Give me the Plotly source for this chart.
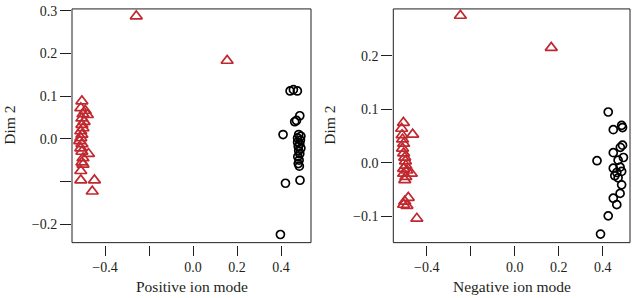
import plotly.graph_objects as go

# ---- data ----
pos_tri_x = [-0.258, 0.155, -0.505, -0.51, -0.49, -0.50, -0.48, -0.505, -0.495, -0.505, -0.50, -0.51,
             -0.505, -0.51, -0.515, -0.505, -0.51, -0.505, -0.475, -0.50, -0.505, -0.50, -0.51, -0.51,
             -0.448, -0.458]
pos_tri_y = [0.287, 0.183, 0.088, 0.072, 0.066, 0.058, 0.056, 0.048, 0.040, 0.033, 0.025, 0.018,
             0.010, 0.002, -0.005, -0.012, -0.022, -0.030, -0.035, -0.045, -0.055, -0.060, -0.075, -0.097,
             -0.097, -0.123]
pos_circ_x = [0.441, 0.456, 0.474, 0.485, 0.470, 0.462, 0.409, 0.480, 0.490, 0.475, 0.488, 0.475,
              0.485, 0.478, 0.490, 0.480, 0.485, 0.476, 0.482, 0.478, 0.483, 0.486, 0.420, 0.397]
pos_circ_y = [0.112, 0.115, 0.112, 0.054, 0.043, 0.040, 0.010, 0.010, 0.006, 0.002, -0.003, -0.008,
              -0.012, -0.018, -0.022, -0.028, -0.035, -0.042, -0.050, -0.058, -0.064, -0.097, -0.104, -0.224]

neg_tri_x = [-0.247, 0.166, -0.506, -0.514, -0.464, -0.512, -0.51, -0.505, -0.51, -0.505, -0.50, -0.497,
             -0.495, -0.505, -0.49, -0.47, -0.505, -0.495, -0.50, -0.484, -0.50, -0.505, -0.49, -0.445]
neg_tri_y = [0.275, 0.215, 0.075, 0.064, 0.053, 0.052, 0.044, 0.036, 0.027, 0.018, 0.010, 0.003,
             -0.005, -0.011, -0.014, -0.020, -0.020, -0.026, -0.032, -0.065, -0.072, -0.078, -0.080, -0.104]
neg_circ_x = [0.425, 0.448, 0.486, 0.490, 0.490, 0.480, 0.448, 0.494, 0.374, 0.470, 0.448, 0.479,
              0.464, 0.486, 0.455, 0.470, 0.486, 0.479, 0.448, 0.464, 0.425, 0.390]
neg_circ_y = [0.095, 0.062, 0.070, 0.066, 0.033, 0.029, 0.019, 0.010, 0.004, 0.005, -0.010, -0.008,
              -0.018, -0.016, -0.024, -0.028, -0.041, -0.057, -0.066, -0.078, -0.099, -0.133]

x_tickvals = [-0.4, -0.2, 0.0, 0.2, 0.4]
x_ticktext = ["\u22120.4", "", "0.0", "0.2", "0.4"]
pos_y_tickvals = [0.3, 0.2, 0.1, 0.0, -0.1, -0.2]
pos_y_ticktext = ["0.3", "0.2", "0.1", "0.0", "", "\u22120.2"]
neg_y_tickvals = [0.2, 0.1, 0.0, -0.1]
neg_y_ticktext = ["0.2", "0.1", "0.0", "\u22120.1"]
panel_titles = ["Positive ion mode", "Negative ion mode"]
y_title = "Dim 2"

RED = "#c0282f"
INK = "#231f20"
W, H = 632, 298
FONT = "Liberation Serif"

fig = go.Figure()

def tri(x, y, xa, ya):
    return go.Scatter(x=x, y=y, xaxis=xa, yaxis=ya, mode="markers", showlegend=False,
                      marker=dict(symbol="triangle-up-open", size=10.5, color=RED, line=dict(width=1.7, color=RED)))

def circ(x, y, xa, ya):
    return go.Scatter(x=x, y=y, xaxis=xa, yaxis=ya, mode="markers", showlegend=False,
                      marker=dict(symbol="circle-open", size=8, color="black", line=dict(width=1.7, color="black")))

fig.add_trace(circ(pos_circ_x, pos_circ_y, "x", "y"))
fig.add_trace(tri(pos_tri_x, pos_tri_y, "x", "y"))
fig.add_trace(circ(neg_circ_x, neg_circ_y, "x2", "y2"))
fig.add_trace(tri(neg_tri_x, neg_tri_y, "x2", "y2"))

y_dom = [(H - 241.7) / H, (H - 4) / H]
x1_dom = [72 / W, 311 / W]
x2_dom = [393.3 / W, 630 / W]
tickfont = dict(family=FONT, size=14, color=INK)

common_x = dict(showgrid=False, zeroline=False, showline=False, ticks="outside", ticklen=10,
                tickwidth=1, tickcolor=INK, tickfont=tickfont, anchor="free", ticklabeloverflow="allow",
                position=y_dom[0] - 2 / H, tickvals=x_tickvals, ticktext=x_ticktext)
common_y = dict(showgrid=False, zeroline=False, showline=False, ticks="outside", ticklen=11,
                tickwidth=1, tickcolor=INK, tickfont=tickfont, domain=y_dom, ticklabeloverflow="allow")

fig.update_layout(
    width=W, height=H, margin=dict(l=0, r=0, t=0, b=0),
    paper_bgcolor="white", plot_bgcolor="white",
    xaxis=dict(domain=x1_dom, range=[-0.55, 0.536], **common_x),
    yaxis=dict(anchor="x", range=[-0.243, 0.304], tickvals=pos_y_tickvals, ticktext=pos_y_ticktext, **common_y),
    xaxis2=dict(domain=x2_dom, range=[-0.552, 0.524], **common_x),
    yaxis2=dict(anchor="x2", range=[-0.149, 0.2875], tickvals=neg_y_tickvals, ticktext=neg_y_ticktext, **common_y),
)

for xr, yr in (("x", "y"), ("x2", "y2")):
    fig.add_shape(type="rect", xref=f"{xr} domain", yref=f"{yr} domain", x0=0, x1=1, y0=0, y1=1,
                  line=dict(color=INK, width=1), layer="above")

titlefont = dict(family=FONT, size=15.5, color=INK)
for cx, t in ((191.5, panel_titles[0]), (511.7, panel_titles[1])):
    fig.add_annotation(text=t, x=cx / W, y=1 - 286.7 / H, xref="paper", yref="paper",
                       showarrow=False, font=titlefont, xanchor="center", yanchor="middle")
for cx in (10, 330):
    fig.add_annotation(text=y_title, x=cx / W, y=1 - 122.8 / H, xref="paper", yref="paper",
                       showarrow=False, font=titlefont, textangle=-90, xanchor="center", yanchor="middle")

fig.write_html("out.html", config={"displayModeBar": False},
               post_script="document.body.style.margin='0';document.body.style.overflow='hidden';")
